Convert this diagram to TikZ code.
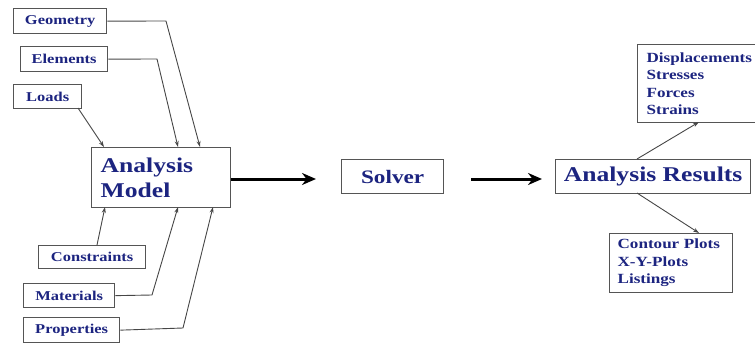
\documentclass[tikz,border=0pt]{standalone}
\usepackage{fontspec}
\setmainfont{Liberation Serif}[FakeStretch=1.22]
\usetikzlibrary{arrows.meta}
\definecolor{txtblue}{RGB}{28,36,128}
\definecolor{boxgray}{RGB}{85,85,85}
\definecolor{linegray}{RGB}{70,70,70}
\tikzset{
  box/.style={draw=boxgray, line width=1.3pt, anchor=north west, inner sep=0pt, text=txtblue, fill=white},
  lbl/.style={box, font=\fontsize{13.5}{16}\selectfont\bfseries},
  big/.style={box, font=\fontsize{21}{25}\selectfont\bfseries},
  lst/.style={box, font=\fontsize{14}{17.5}\selectfont\bfseries, align=left, inner ysep=0pt},
  conn/.style={draw=linegray, line width=0.9pt, -{Stealth[length=6pt,width=4pt]}},
  mainarrow/.style={draw=black, line width=3pt, -{Stealth[length=14pt,width=12pt]}}
}
\begin{document}
\begin{tikzpicture}[x=1pt,y=-1pt]
\useasboundingbox (0,0) rectangle (755,345);
% input boxes
\node[lbl, minimum width=93, minimum height=25] (geo) at (13,8) {Geometry};
\node[lbl, minimum width=87, minimum height=25] (ele) at (20,46) {Elements};
\node[lbl, minimum width=68, minimum height=24] (loa) at (13,84) {Loads};
\node[lbl, minimum width=107, minimum height=23] (con) at (38,245) {Constraints};
\node[lbl, minimum width=91, minimum height=24] (mat) at (23,283) {Materials};
\node[lbl, minimum width=96, minimum height=25] (pro) at (23,317) {Properties};
% model
\node[big, minimum height=60, inner xsep=9pt, text width=121pt, align=left] (model) at (91,147) {Analysis\\Model};
\node[big, minimum width=102, minimum height=34, font=\fontsize{19}{22}\selectfont\bfseries] (sol) at (341,159) {Solver};
\node[big, minimum width=195, minimum height=34] (res) at (555,159) {Analysis Results};
\node[lst, minimum height=78, inner xsep=9pt, text width=110pt] (top) at (637,44) {Displacements\\Stresses\\Forces\\Strains};
\node[lst, minimum height=59, inner xsep=8pt, text width=107pt] (bot) at (609,233) {Contour Plots\\X-Y-Plots\\Listings};
% bend points
\coordinate (geob) at (166,21);
\coordinate (eleb) at (157,59);
\coordinate (matb) at (152,295);
\coordinate (prob) at (183,328);
\coordinate (loas) at (78,108);
\coordinate (cons) at (97,245);
\coordinate (m1) at (200,147);
\coordinate (m2) at (178,147);
\coordinate (m3) at (104,147);
\coordinate (m4) at (105,207);
\coordinate (m5) at (178,207);
\coordinate (m6) at (213,207);
% connectors
\draw[conn] (geo.east) -- (geob) -- (m1);
\draw[conn] (ele.east) -- (eleb) -- (m2);
\draw[conn] (loas) -- (m3);
\draw[conn] (cons) -- (m4);
\draw[conn] (mat.east) -- (matb) -- (m5);
\draw[conn] (pro.east) -- (prob) -- (m6);
% main arrows
\coordinate (a1) at (316,179);
\coordinate (a2s) at (471,179);
\coordinate (a2) at (542,179);
\draw[mainarrow] (model.east |- a1) -- (a1);
\draw[mainarrow] (a2s) -- (a2);
% results
\coordinate (rt) at (637,159);
\coordinate (rb) at (637,193);
\coordinate (tt) at (699,122);
\coordinate (bt) at (699,233);
\draw[conn] (rt) -- (tt);
\draw[conn] (rb) -- (bt);
\end{tikzpicture}
\end{document}
